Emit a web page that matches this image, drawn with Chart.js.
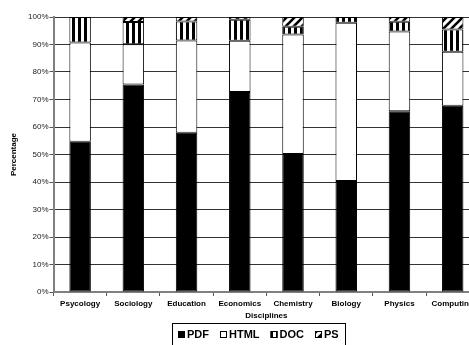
<!DOCTYPE html>
<html><head><meta charset="utf-8">
<script src="https://cdn.jsdelivr.net/npm/chart.js@4/dist/chart.umd.min.js"></script>
<style>
html,body{margin:0;padding:0;overflow:hidden;background:#fff;width:469px;height:345px}
#wrap{position:relative;width:490px;height:345px}
</style>
</head><body><div id="wrap"><canvas id="c"></canvas></div>
<script>
const categories = ['Psycology','Sociology','Education','Economics','Chemistry','Biology','Physics','Computing'];
const seriesNames = ['PDF','HTML','DOC','PS'];
const pdfValues  = [54.6, 75.5, 57.9, 72.7, 50.2, 40.4, 65.7, 67.7];
const htmlValues = [36.1, 14.6, 33.6, 18.7, 43.4, 57.5, 29.0, 19.7];
const docValues  = [9.3, 8.1, 6.9, 7.6, 2.9, 2.1, 3.6, 8.1];
const psValues   = [0, 1.8, 1.6, 1.0, 3.5, 0, 1.7, 4.5];
const yTickValues = [0,10,20,30,40,50,60,70,80,90,100];

const FONT = "'Liberation Sans', Arial, sans-serif";
const canvas = document.getElementById('c');
const ctx = canvas.getContext('2d');

function vStripes(){
  const c = document.createElement('canvas'); c.width = 6; c.height = 6;
  const x = c.getContext('2d');
  x.fillStyle = '#fff'; x.fillRect(0,0,6,6);
  x.fillStyle = '#000'; x.fillRect(0,0,3,6);
  return ctx.createPattern(c,'repeat');
}
function dStripes(){
  const s = 8;
  const c = document.createElement('canvas'); c.width = s; c.height = s;
  const x = c.getContext('2d');
  x.fillStyle = '#fff'; x.fillRect(0,0,s,s);
  x.strokeStyle = '#000'; x.lineWidth = 2.6;
  x.beginPath();
  x.moveTo(-2, s+2); x.lineTo(s+2, -2);
  x.moveTo(-2, 2); x.lineTo(2, -2);
  x.moveTo(s-2, s+2); x.lineTo(s+2, s-2);
  x.stroke();
  return ctx.createPattern(c,'repeat');
}
const fills = ['#000', '#fff', vStripes(), dStripes()];
const seriesValues = [pdfValues, htmlValues, docValues, psValues];

const datasets = seriesNames.map((n,i)=>({
  label: n,
  data: seriesValues[i],
  backgroundColor: fills[i],
  borderColor: '#000',
  borderWidth: 1,
  borderSkipped: false,
  barPercentage: 0.404,
  categoryPercentage: 1.0
}));

const legendBox = {
  id: 'legendBox',
  afterDraw(chart){
    const c = chart.ctx;
    const left = 172, top = 323, h = 22;
    c.save();
    c.font = "bold 11px " + FONT;
    c.textBaseline = 'middle';
    const sw = 7, gapIcon = 2, gapItem = 11, pad = 6;
    let total = 0;
    seriesNames.forEach((n,i)=>{ total += sw + gapIcon + c.measureText(n).width + (i<seriesNames.length-1?gapItem:0); });
    const w = total + pad*2;
    c.strokeStyle = '#000'; c.lineWidth = 1;
    c.strokeRect(left+0.5, top+0.5, Math.round(w), h);
    let x = left + pad;
    const cy = top + 11.5;
    seriesNames.forEach((n,i)=>{
      c.fillStyle = fills[i];
      c.fillRect(x, cy-3.5, sw, sw);
      c.strokeStyle = '#000';
      c.strokeRect(x+0.5, cy-3, sw-1, sw-1);
      c.fillStyle = '#000';
      c.fillText(n, x + sw + gapIcon, cy);
      x += sw + gapIcon + c.measureText(n).width + gapItem;
    });
    c.restore();
  }
};

new Chart(canvas, {
  type: 'bar',
  data: { labels: categories, datasets },
  plugins: [legendBox],
  options: {
    responsive: true,
    maintainAspectRatio: false,
    animation: false,
    devicePixelRatio: 1,
    layout: { padding: { top: 17, left: 0, right: 10.7, bottom: 23 } },
    plugins: { legend: { display: false }, tooltip: { enabled: false } },
    scales: {
      x: {
        stacked: true,
        afterFit(s){ s.height = 30; },
        grid: { drawOnChartArea: false, drawTicks: true, tickLength: 4, offset: true, color: '#555', lineWidth: 1 },
        border: { display: true, color: '#808080', width: 2 },
        ticks: { color: '#000', font: { family: FONT, size: 8, weight: 'bold' }, padding: 3, maxRotation: 0, autoSkip: false },
        title: { display: true, text: 'Disciplines', color: '#000', font: { family: FONT, size: 8, weight: 'bold' }, padding: { top: 0, bottom: 1.2 } }
      },
      y: {
        stacked: true,
        min: 0, max: 100,
        afterFit(s){ s.width = 53.5; },
        afterBuildTicks(s){ s.ticks = yTickValues.map(v=>({value:v})); },
        grid: { color: '#333', lineWidth: 1, drawTicks: true, tickLength: 4, tickColor: '#555' },
        border: { display: true, color: '#808080', width: 2 },
        ticks: { color: '#222', font: { family: FONT, size: 8 }, padding: 1, callback: v => v + '%' },
        title: { display: true, text: 'Percentage', color: '#000', font: { family: FONT, size: 8, weight: 'bold' }, padding: { top: 9, bottom: 0 } }
      }
    }
  }
});
</script>
</body></html>
